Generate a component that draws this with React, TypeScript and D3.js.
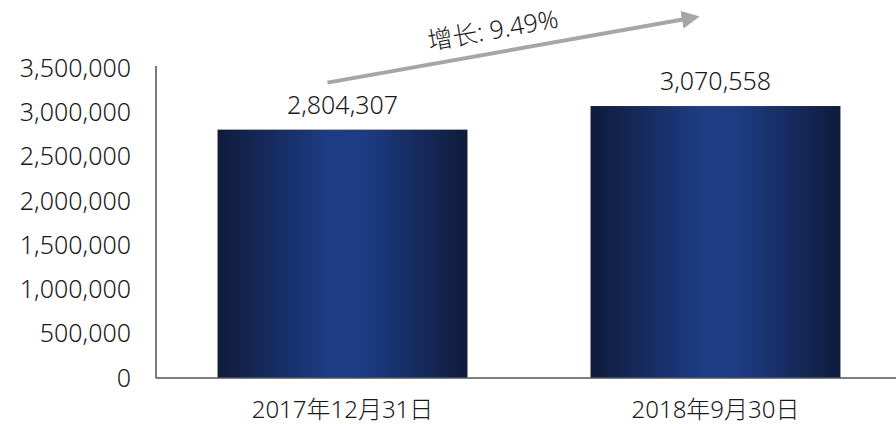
import * as d3 from "d3";

const WIDTH = 896;
const HEIGHT = 424;
const MARGIN = { top: 68, right: -6, bottom: 46, left: 156 };

const categories = ["2017年12月31日", "2018年9月30日"];
const values = [2804307, 3070558];
const yTicks = [0, 500000, 1000000, 1500000, 2000000, 2500000, 3000000, 3500000];
const growthLabel = "增长: 9.49%";

const FONT = "'Noto Sans', 'Open Sans', 'Noto Sans CJK SC', sans-serif";

export default function App() {
  const x = d3
    .scaleBand<string>()
    .domain(categories)
    .range([MARGIN.left, WIDTH - MARGIN.right])
    .paddingInner(0.33)
    .paddingOuter(0.165);

  const y = d3
    .scaleLinear()
    .domain([0, 3500000])
    .range([HEIGHT - MARGIN.bottom, MARGIN.top]);

  const fmt = d3.format(",");

  // arrow from above first bar to above second
  const x1 = (x(categories[0]) ?? 0) + x.bandwidth() * 0.44;
  const x2 = (x(categories[1]) ?? 0) + x.bandwidth() * 0.38;
  const ay1 = y(values[0]) - 47;
  const ay2 = y(values[1]) - 87;
  const angle = (Math.atan2(ay2 - ay1, x2 - x1) * 180) / Math.PI;
  const mx = (x1 + x2) / 2 - 12;
  const my = (ay1 + ay2) / 2 + 2;

  return (
    <svg
      width={WIDTH}
      height={HEIGHT}
      style={{ position: "absolute", left: 0, top: 0, background: "#fff" }}
      fontFamily={FONT}
    >
      <defs>
        <linearGradient id="barGrad" x1="0" x2="1" y1="0" y2="0">
          <stop offset="0%" stopColor="#0f1b3b" />
          <stop offset="45%" stopColor="#1e3d86" />
          <stop offset="60%" stopColor="#1d3b82" />
          <stop offset="100%" stopColor="#0f1b3b" />
        </linearGradient>
        <marker
          id="arrowHead"
          viewBox="0 0 10 10"
          refX="2"
          refY="5"
          markerWidth="4.5"
          markerHeight="4.5"
          orient="auto"
        >
          <path d="M0,0 L10,5 L0,10 Z" fill="#a6a6a6" />
        </marker>
      </defs>

      {categories.map((c, i) => (
        <rect
          key={c}
          x={x(c)}
          y={y(values[i])}
          width={x.bandwidth()}
          height={y(0) - y(values[i])}
          fill="url(#barGrad)"
        />
      ))}

      {/* axes */}
      <line x1={MARGIN.left} x2={MARGIN.left} y1={y(3500000) - 2} y2={y(0)} stroke="#222" strokeWidth={1.2} />
      <line x1={MARGIN.left} x2={WIDTH} y1={y(0)} y2={y(0)} stroke="#555" strokeWidth={1.5} />

      {yTicks.map((t) => (
        <text
          key={t}
          x={MARGIN.left - 25}
          y={y(t)}
          dy="0.35em"
          textAnchor="end"
          fontSize={25}
          fontWeight={300}
          fill="#1a1a1a"
        >
          {fmt(t)}
        </text>
      ))}

      {categories.map((c, i) => (
        <g key={c}>
          <text
            x={(x(c) ?? 0) + x.bandwidth() / 2}
            y={y(values[i]) - 16}
            textAnchor="middle"
            fontSize={25}
            fontWeight={300}
            fill="#1a1a1a"
          >
            {fmt(values[i])}
          </text>
          <text
            x={(x(c) ?? 0) + x.bandwidth() / 2}
            y={HEIGHT - 6}
            textAnchor="middle"
            fontSize={24}
            fontWeight={300}
            fill="#1a1a1a"
          >
            {c}
          </text>
        </g>
      ))}

      <line
        x1={x1}
        y1={ay1}
        x2={x2}
        y2={ay2}
        stroke="#a6a6a6"
        strokeWidth={4}
        markerEnd="url(#arrowHead)"
      />
      <text
        transform={`translate(${mx},${my - 14}) rotate(${angle})`}
        textAnchor="middle"
        fontSize={25}
        fontWeight={300}
        fill="#1a1a1a"
      >
        {growthLabel}
      </text>
    </svg>
  );
}
